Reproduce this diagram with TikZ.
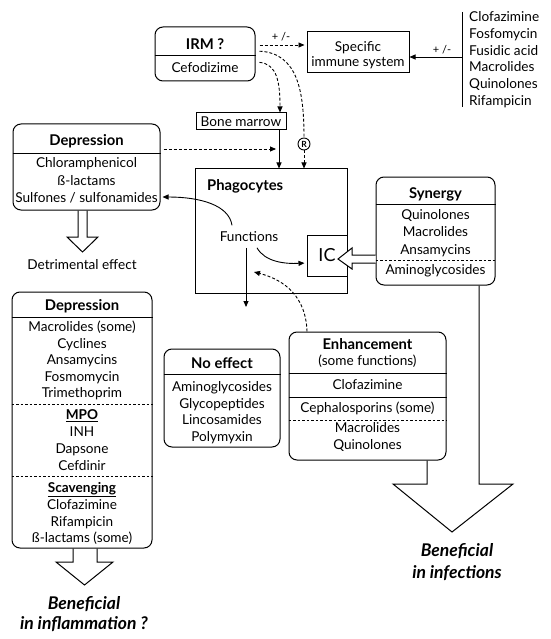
\documentclass[tikz,border=0pt]{standalone}
\usepackage{fontspec}
\setmainfont{Lato}
\usetikzlibrary{arrows.meta,calc}
\tikzset{
  ln/.style={line width=1pt},
  rbox/.style={draw, line width=1pt, rounded corners=8pt, inner sep=0pt},
  sbox/.style={draw, line width=1pt, inner sep=0pt},
  tx/.style={inner sep=0pt, anchor=base, font=\fontsize{13.6}{15}\selectfont},
  txl/.style={tx, anchor=base west},
  hd/.style={inner sep=0pt, anchor=base, font=\fontsize{14.8}{16}\selectfont\bfseries},
  sm/.style={inner sep=0pt, anchor=base, font=\fontsize{11}{12}\selectfont},
  big/.style={inner sep=0pt, anchor=base, font=\fontsize{17.5}{19}\selectfont\bfseries\itshape},
  arr/.style={-{Triangle[length=6pt,width=5pt]}, line width=0.9pt},
  darr/.style={arr, dash pattern=on 3pt off 2pt},
  dsh/.style={line width=0.7pt, dash pattern=on 2.5pt off 2pt},
  sol/.style={line width=0.9pt}
}
\begin{document}
\begin{tikzpicture}[x=1pt,y=-1pt]
\useasboundingbox (0,0) rectangle (550,639);

% ---------- IRM box
\node[rbox, minimum width=100pt, minimum height=54pt] (irm) at (205,54) {};
\draw[sol] (irm.west |- 0,55) -- (irm.east |- 0,55);
\node[hd] (irmh) at (205,49.5) {IRM ?};
\node[tx] (irmc) at (205,72.5) {Cefodizime};

% ---------- Specific immune system
\node[sbox, minimum width=102pt, minimum height=41pt] (spec) at (358,52.5) {};
\node[tx] (spec1) at (358,51.5) {Specific};
\node[tx] (spec2) at (358,66.5) {immune system};

% ---------- antibiotic list
\coordinate (lt) at (462,12);
\coordinate (lb) at (462,107);
\coordinate (lm) at (462,57);
\draw[ln] (lt) -- (lb);
\foreach \s [count=\i] in {Clofazimine,Fosfomycin,Fusidic acid,Macrolides,Quinolones,Rifampicin}
  \node[txl] (ab\i) at (469,{21.5+16.8*(\i-1)}) {\s};
\draw[arr] (lm) -- (lm -| spec.east);
\node[sm] (pm2) at (442,54) {+ /-};

% IRM -> specific
\draw[darr, shorten <=4pt, shorten >=2pt] (irm.east |- 0,45) -- (spec.west |- 0,45);
\node[sm] (pm1) at (281,41) {+ /-};

% ---------- Bone marrow
\node[sbox, minimum width=90pt, minimum height=17pt, font=\fontsize{13.6}{15}\selectfont] (bm) at (241,121.5) {Bone marrow};
\draw[darr, shorten <=4pt] (irm.east |- 0,62) .. controls (277,64) and (280,82) .. (280,0 |- bm.north);

% ---------- R circle
\node[circle, draw, line width=0.9pt, inner sep=0pt, minimum size=12pt, font=\fontsize{8.5}{9}\selectfont\bfseries] (R) at (304,144) {R};
\draw[line width=0.9pt, dash pattern=on 3pt off 2pt, shorten <=4pt] (irm.east |- 0,51) .. controls (298,53) and (304,92) .. (R.north);

% ---------- Phagocytes
\node[sbox, minimum width=152pt, minimum height=124pt] (phag) at (271,231) {};
\draw[darr] (R.south) -- (R.south |- phag.north);
\draw[arr] (279,0 |- bm.south) -- (279,0 |- phag.north);
\node[hd, anchor=base west] (phagt) at (207,190.5) {Phagocytes};
\node[tx] (fun) at (249,241.5) {Functions};
\node[sbox, minimum width=40pt, minimum height=41pt, font=\fontsize{18}{20}\selectfont] (ic) at (327,255.5) {IC};

% ---------- Depression (top)
\node[rbox, minimum width=147pt, minimum height=86pt] (dep1) at (86.5,167) {};
\draw[sol] (dep1.west |- 0,153) -- (dep1.east |- 0,153);
\node[hd] (dep1h) at (86.5,145.5) {Depression};
\node[tx] (dep1a) at (86.5,167.5) {Chloramphenicol};
\node[tx] (dep1b) at (86.5,185.5) {ß-lactams};
\node[tx] (dep1c) at (86.5,202.5) {Sulfones / sulfonamides};
\coordinate (bmj) at (276,149);
\draw[darr, shorten <=3pt] (dep1.east |- bmj) -- (bmj);
\draw[ln] (78,0 |- dep1.south) -- (78,237) -- (67,237) -- (82.5,252) -- (98,237) -- (87,237) -- (87,0 |- dep1.south);
\node[tx] (detr) at (82,269.5) {Detrimental effect};

% connectors from Functions
\draw[arr, shorten >=2pt] ($(fun.north)+(-17,-6)$) .. controls (229,205) and (200,197) .. (dep1.east |- 0,197);
\draw[arr, shorten >=2pt] ($(fun.south)+(8,6)$) .. controls (265,262) and (285,264) .. (ic.west |- 0,263);
\coordinate (fdown) at (246,307);
\draw[arr] ($(fun.south)+(-3,6)$) -- (fdown);

% ---------- Synergy
\node[rbox, minimum width=119pt, minimum height=108pt] (syn) at (435.5,231) {};
\draw[sol] (syn.west |- 0,204) -- (syn.east |- 0,204);
\node[hd] (synh) at (435.5,198.5) {Synergy};
\node[tx] (syn1) at (435.5,219.5) {Quinolones};
\node[tx] (syn2) at (435.5,236.5) {Macrolides};
\node[tx] (syn3) at (435.5,254) {Ansamycins};
\draw[dsh] (syn.west |- 0,260) -- (syn.east |- 0,260);
\node[tx] (syn4) at (435.5,274.5) {Aminoglycosides};
\draw[ln, fill=white] (syn.west |- 0,255) -- (352,255) -- (352,248) -- (338,259) -- (352,269) -- (352,263) -- (syn.west |- 0,263);

% ---------- Enhancement
\node[rbox, minimum width=157pt, minimum height=128pt] (enh) at (367.5,396) {};
\node[hd] (enhh) at (367.5,349.5) {Enhancement};
\node[tx] (enhs) at (367.5,365.5) {(some functions)};
\draw[sol] (enh.west |- 0,373) -- (enh.east |- 0,373);
\node[tx] (enh1) at (367.5,389.5) {Clofazimine};
\draw[sol] (enh.west |- 0,397) -- (enh.east |- 0,397);
\node[tx] (enh2) at (367.5,412.5) {Cephalosporins (some)};
\draw[dsh] (enh.west |- 0,420) -- (enh.east |- 0,420);
\node[tx] (enh3) at (367.5,432.5) {Macrolides};
\node[tx] (enh4) at (367.5,449.5) {Quinolones};
\coordinate (fup) at (254,272);
\draw[darr] (307,0 |- enh.north) .. controls (306,297) and (285,280) .. (fup);

% big arrow
\draw[ln] (427,0 |- enh.south) -- (427,484) -- (393,484) -- (452,532) -- (513,484) -- (479,484) -- (479,0 |- syn.south);
\node[big] (bi1) at (457,556) {Beneficial};
\node[big] (bi2) at (457,578) {in infections};

% ---------- No effect
\node[rbox, minimum width=116pt, minimum height=98pt] (noe) at (222,398) {};
\draw[sol] (noe.west |- 0,374) -- (noe.east |- 0,374);
\node[hd] (noeh) at (222,368.5) {No effect};
\foreach \s [count=\i] in {Aminoglycosides,Glycopeptides,Lincosamides,Polymyxin}
  \node[tx] (noe\i) at (222,{391.5+16.7*(\i-1)}) {\s};

% ---------- Depression (bottom)
\node[rbox, minimum width=140pt, minimum height=256pt] (dep2) at (82,420) {};
\draw[sol] (dep2.west |- 0,317) -- (dep2.east |- 0,317);
\node[hd] (dep2h) at (82,310.5) {Depression};
\foreach \s [count=\i] in {Macrolides (some),Cyclines,Ansamycins,Fosmomycin,Trimethoprim}
  \node[tx] (dpa\i) at (82,{331.5+16.6*(\i-1)}) {\s};
\draw[dsh] (dep2.west |- 0,404) -- (dep2.east |- 0,404);
\node[tx, font=\fontsize{13.6}{15}\selectfont\bfseries] (mpo) at (82,419.5) {\underline{MPO}};
\foreach \s [count=\i] in {INH,Dapsone,Cefdinir}
  \node[tx] (dpb\i) at (82,{436+17*(\i-1)}) {\s};
\draw[dsh] (dep2.west |- 0,476) -- (dep2.east |- 0,476);
\node[tx, font=\fontsize{13.6}{15}\selectfont\bfseries] (scav) at (82,492.5) {\underline{Scavenging}};
\foreach \s [count=\i] in {Clofazimine,Rifampicin,ß-lactams (some)}
  \node[tx] (dpc\i) at (82,{509.5+16.7*(\i-1)}) {\s};
\draw[ln] (73,0 |- dep2.south) -- (73,562) -- (56,562) -- (84.5,585) -- (113,562) -- (97,562) -- (97,0 |- dep2.south);
\node[big] (bl1) at (84,609) {Beneficial};
\node[big] (bl2) at (84,629) {in inflammation ?};

\end{tikzpicture}
\end{document}
